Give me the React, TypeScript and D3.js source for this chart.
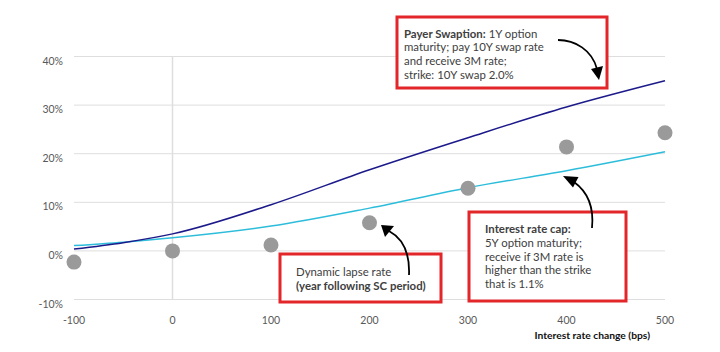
import { useEffect, useRef } from 'react'
import * as d3 from 'd3'

// interest rate change (bps)
const shocks = [-100, -50, 0, 100, 200, 300, 400, 500]
// payer swaption value (%)
const swaption = [0.4, 1.7, 3.5, 9.5, 16.7, 23.3, 29.6, 35.0]
// interest rate cap value (%)
const cap = [1.1, 1.8, 2.7, 5.1, 8.8, 13.0, 16.5, 20.4]

// dynamic lapse rate points
const lapseShocks = [-100, 0, 100, 200, 300, 400, 500]
const lapse = [-2.3, 0, 1.2, 5.8, 12.9, 21.4, 24.3]

const xTicks = [-100, 0, 100, 200, 300, 400, 500]
const yTicks = [-10, 0, 10, 20, 30, 40]

const FONT = 'Lato, "Open Sans", sans-serif'

export default function App() {
  const svgRef = useRef<SVGSVGElement>(null)

  useEffect(() => {
    if (!svgRef.current) return
    const svg = d3.select(svgRef.current)
    svg.selectAll('*').remove()

    const width = 720
    const height = 352

    svg.attr('width', width).attr('height', height)

    const x = d3.scaleLinear().domain([-100, 500]).range([74, 665])
    const y = d3.scaleLinear().domain([-10, 40]).range([299.5, 56.5])

    // grid lines
    svg.selectAll('.grid')
      .data(yTicks)
      .enter()
      .append('line')
      .attr('x1', x(-100))
      .attr('x2', x(500))
      .attr('y1', d => y(d))
      .attr('y2', d => y(d))
      .attr('stroke', '#dedede')
      .attr('stroke-width', 1)

    // vertical zero line
    svg.append('line')
      .attr('x1', x(0))
      .attr('x2', x(0))
      .attr('y1', y(40))
      .attr('y2', y(-10))
      .attr('stroke', '#dedede')
      .attr('stroke-width', 1.5)

    // y tick labels
    svg.selectAll('.ylab')
      .data(yTicks)
      .enter()
      .append('text')
      .attr('x', 63)
      .attr('y', d => y(d) + 8)
      .attr('text-anchor', 'end')
      .attr('font-family', FONT)
      .attr('font-size', 10.5)
      .attr('fill', '#595959')
      .text(d => `${d}%`)

    // x tick labels
    svg.selectAll('.xlab')
      .data(xTicks)
      .enter()
      .append('text')
      .attr('x', d => x(d))
      .attr('y', 324)
      .attr('text-anchor', 'middle')
      .attr('font-family', FONT)
      .attr('font-size', 10.5)
      .attr('fill', '#595959')
      .text(d => String(d))

    svg.append('text')
      .attr('x', 650)
      .attr('y', 339)
      .attr('text-anchor', 'end')
      .attr('font-family', FONT)
      .attr('font-size', 10.3)
      .attr('font-weight', 'bold')
      .attr('fill', '#111')
      .text('Interest rate change (bps)')

    const line = d3.line<number>()
      .x((_, i) => x(shocks[i]))
      .y(d => y(d))
      .curve(d3.curveMonotoneX)

    svg.append('path')
      .attr('d', line(cap))
      .attr('fill', 'none')
      .attr('stroke', '#2dbddb')
      .attr('stroke-width', 1.5)

    svg.append('path')
      .attr('d', line(swaption))
      .attr('fill', 'none')
      .attr('stroke', '#1c1a8a')
      .attr('stroke-width', 1.5)

    // lapse dots
    svg.selectAll('.dot')
      .data(lapse)
      .enter()
      .append('circle')
      .attr('cx', (_, i) => x(lapseShocks[i]))
      .attr('cy', d => y(d))
      .attr('r', 7.5)
      .attr('fill', '#9a9a9a')

    // annotation boxes
    const box = (x0: number, y0: number, x1: number, y1: number) => {
      svg.append('rect')
        .attr('x', x0)
        .attr('y', y0)
        .attr('width', x1 - x0)
        .attr('height', y1 - y0)
        .attr('fill', '#fff')
        .attr('stroke', '#e2262a')
        .attr('stroke-width', 3)
    }

    const textLines = (x0: number, y0: number, step: number, lines: { parts: [string, boolean][] }[]) => {
      lines.forEach((l, i) => {
        const t = svg.append('text')
          .attr('x', x0)
          .attr('y', y0 + i * step)
          .attr('font-family', FONT)
          .attr('font-size', 11.4)
          .attr('fill', '#404040')
        l.parts.forEach(([s, b]) => {
          t.append('tspan')
            .attr('font-weight', b ? 'bold' : 'normal')
            .text(s)
        })
      })
    }

    box(397, 17, 607, 88)
    textLines(404, 37.5, 13.8, [
      { parts: [['Payer Swaption:', true], [' 1Y option', false]] },
      { parts: [['maturity; pay 10Y swap rate', false]] },
      { parts: [['and receive 3M rate;', false]] },
      { parts: [['strike: 10Y swap 2.0%', false]] },
    ])

    box(280, 254, 441, 302)
    textLines(296, 276, 13.8, [
      { parts: [['Dynamic lapse rate', false]] },
      { parts: [['(year following SC period)', true]] },
    ])

    box(469, 212, 626, 301)
    textLines(485, 233, 13.8, [
      { parts: [['Interest rate cap:', true]] },
      { parts: [['5Y option maturity;', false]] },
      { parts: [['receive if 3M rate is', false]] },
      { parts: [['higher than the strike', false]] },
      { parts: [['that is 1.1%', false]] },
    ])

    // arrows
    const arrow = (d: string, head: [number, number][]) => {
      svg.append('path')
        .attr('d', d)
        .attr('fill', 'none')
        .attr('stroke', '#000')
        .attr('stroke-width', 1.8)
      svg.append('path')
        .attr('d', 'M' + head.map(p => p.join(',')).join('L') + 'Z')
        .attr('fill', '#000')
    }

    arrow('M558,40 C575,40 592,50 597,69', [[591, 69], [603, 66], [599, 80]])
    arrow('M389,231 C402,238 410,252 409,275', [[381, 225], [385, 237], [394, 226]])
    arrow('M574,182 C588,192 594,208 592,228', [[563, 176], [573, 187.5], [578.5, 177]])
  }, [])

  return (
    <svg
      ref={svgRef}
      style={{ position: 'absolute', left: 0, top: 0, background: '#fff' }}
    />
  )
}
